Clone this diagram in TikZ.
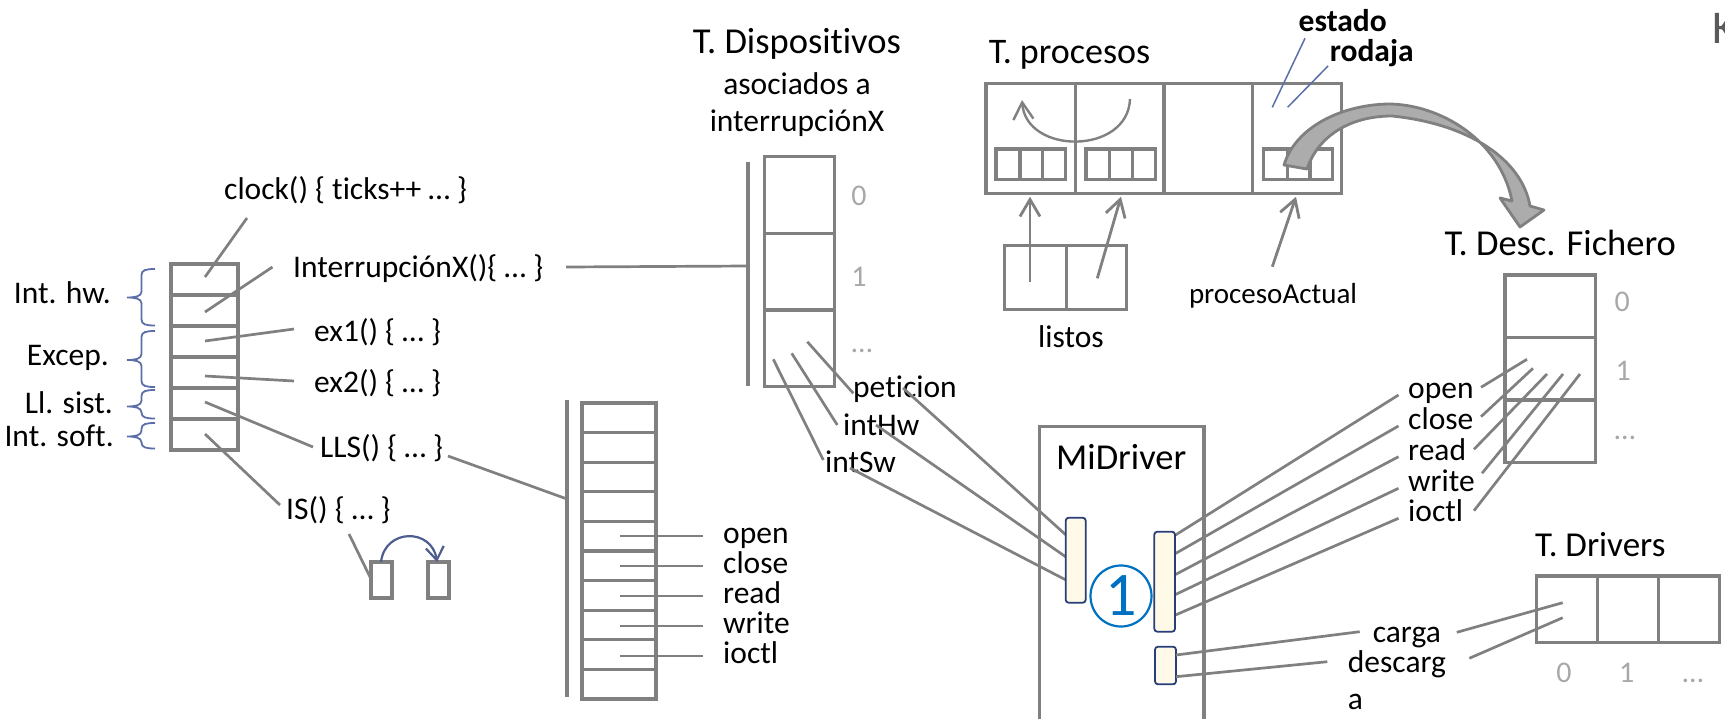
\documentclass[tikz,border=0pt]{standalone}
\usepackage{fontspec}
\setmainfont{Carlito}[Ligatures={NoCommon}]
\usetikzlibrary{arrows.meta}
\definecolor{linegray}{RGB}{128,128,128}
\definecolor{idxgray}{RGB}{168,168,168}
\definecolor{bracecol}{RGB}{92,110,168}
\definecolor{barfill}{RGB}{255,249,232}
\definecolor{barline}{RGB}{40,62,120}
\definecolor{circblue}{RGB}{0,112,192}
\definecolor{arrowfill}{RGB}{172,172,172}
\definecolor{kgray}{RGB}{90,90,90}
% curly brace opening to the right: top, tip, bottom
\newcommand\sidebrace[3]{%
  \draw[brc] (155,#1) .. controls (146,#1) and (141.5,#1+1) .. (141.5,#1+6)
    -- (141.5,#2-6) .. controls (141.5,#2-1) and (135,#2) .. (127,#2)
    .. controls (135,#2) and (141.5,#2+1) .. (141.5,#2+6)
    -- (141.5,#3-6) .. controls (141.5,#3-1) and (146,#3) .. (155,#3);}
\begin{document}
\begin{tikzpicture}[x=1pt,y=-1pt,
  cell/.style={draw=linegray,line width=3.2pt},
  wire/.style={draw=linegray,line width=2.7pt},
  lbl/.style={inner sep=0pt,font=\fontsize{31.5}{37}\selectfont},
  ttl/.style={inner sep=0pt,font=\fontsize{36.5}{44}\selectfont},
  idx/.style={inner sep=0pt,text=idxgray,font=\fontsize{30}{36}\selectfont},
  ptr/.style={draw=linegray,line width=2.8pt,-{Straight Barb[length=17pt,width=20pt]}},
  brc/.style={draw=bracecol,line width=1.8pt},
  hint/.style={draw=bracecol,line width=1.5pt},
  drvbar/.style={draw=barline,fill=barfill,line width=1.8pt,rounded corners=3pt},
]
\useasboundingbox (0,0) rectangle (1725,718);
\clip (0,0) rectangle (1725,718);

% ---------- interrupt vector table ----------
\draw[cell] (171,264) rectangle (238,450);
\foreach \y in {295,326,357,388,419} \draw[cell] (171,\y) -- (238,\y);
\coordinate (v1) at (205,277);
\coordinate (v2) at (205,312);
\coordinate (v3) at (205,341);
\coordinate (v4) at (205,376);
\coordinate (v5) at (205,402);
\coordinate (v6) at (205,434);

\sidebrace{269}{297.5}{325.5}
\sidebrace{331}{360}{387}
\sidebrace{390}{406.5}{418.5}
\sidebrace{423}{436.5}{448.5}
\node[lbl,anchor=base east] (inthw) at (111,303) {Int. hw.};
\node[lbl,anchor=base east] (excep) at (109,365) {Excep.};
\node[lbl,anchor=base east] (llsist) at (113,413) {Ll. sist.};
\node[lbl,anchor=base east] (intsoft) at (114,446) {Int. soft.};

\node[lbl,anchor=base west] (clk) at (224,199) {clock() \{ ticks++ … \}};
\node[lbl,anchor=base west] (intx) at (293,277) {InterrupciónX()\{ … \}};
\node[lbl,anchor=base west] (ex1) at (314,341) {ex1() \{ … \}};
\node[lbl,anchor=base west] (ex2) at (314,392) {ex2() \{ … \}};
\node[lbl,anchor=base west] (lls) at (320,457) {LLS() \{ … \}};
\node[lbl,anchor=base west] (isr) at (286,519) {IS() \{ … \}};

\coordinate (clkA) at (247,218);
\coordinate (intxA) at (272.5,267);
\coordinate (ex1A) at (294,329);
\coordinate (ex2A) at (294,381);
\coordinate (llsA) at (313,447);
\coordinate (isA) at (280,505);
\draw[wire] (clkA) -- (v1);
\draw[wire] (intxA) -- (v2);
\draw[wire] (ex1A) -- (v3);
\draw[wire] (ex2A) -- (v4);
\draw[wire] (llsA) -- (v5);
\draw[wire] (isA) -- (v6);

% two small buffers and the jump between them
\draw[cell] (371,562) rectangle (392,598);
\draw[cell] (428,562) rectangle (449,598);
\coordinate (bufA) at (371,579);
\coordinate (bufAtop) at (381,562);
\coordinate (bufBtop) at (437,562);
\coordinate (isB) at (349,534);
\draw[wire] (isB) -- (bufA);
\draw[draw=bracecol!85!black,line width=2.2pt,-{Straight Barb[length=13pt,width=18pt]}]
  (bufAtop) .. controls (385,528) and (432,528) .. (bufBtop);

% ---------- system call table ----------
\coordinate (scTop) at (567,400);
\coordinate (scBot) at (567,697);
\draw[cell] (scTop) -- (scBot);
\draw[cell] (582,403) rectangle (656,699);
\foreach \y in {432.6,462.2,491.8,521.4,551,580.6,610.2,639.8,669.4} \draw[cell] (582,\y) -- (656,\y);
\coordinate (llsB) at (448,456);
\coordinate (scIn) at (567,499);
\draw[wire] (llsB) -- (scIn);
\foreach \t/\y in {open/536,close/566,read/596,write/626,ioctl/656}{
  \coordinate (sc\t) at (620,\y);
  \coordinate (sc\t L) at (703,\y);
  \node[lbl,anchor=base west] (scl\t) at (723,\y+7.5) {\t};
  \draw[wire] (sc\t) -- (sc\t L);
}

% ---------- device table of interrupt X ----------
\node[ttl,anchor=base] (tdisp) at (797,53.3) {T. Dispositivos};
\node[lbl,anchor=base,font=\fontsize{31.5}{38}\selectfont] (tdisp2) at (797,94) {asociados a};
\node[lbl,anchor=base,font=\fontsize{31.5}{38}\selectfont] (tdisp3) at (797,131.7) {interrupciónX};
\coordinate (dvTop) at (748,162);
\coordinate (dvBot) at (748,386);
\draw[cell] (dvTop) -- (dvBot);
\draw[cell] (764.3,156.7) rectangle (834.3,386.7);
\draw[cell] (764.3,233.3) -- (834.3,233.3);
\draw[cell] (764.3,310) -- (834.3,310);
\node[idx,anchor=base] (dv0) at (859,205) {0};
\node[idx,anchor=base] (dv1) at (859,286.7) {1};
\node[idx,anchor=base] (dvn) at (862,352) {…};
\coordinate (intxB) at (566,267);
\coordinate (dvIn) at (748,266);
\draw[wire] (intxB) -- (dvIn);

\node[lbl,anchor=base west] (pet) at (853,397) {peticion};
\node[lbl,anchor=base west] (ihw) at (843,435) {intHw};
\node[lbl,anchor=base west] (isw) at (825,472) {intSw};
\coordinate (dvP) at (807.3,341.7);
\coordinate (dvH) at (791.7,353.3);
\coordinate (dvS) at (773.3,359.3);
\coordinate (petA) at (853.3,393.3);
\coordinate (ihwA) at (837.3,425);
\coordinate (iswA) at (823.3,460);
\draw[wire] (dvP) -- (petA);
\draw[wire] (dvH) -- (ihwA);
\draw[wire] (dvS) -- (iswA);

% ---------- driver ----------
\draw[cell] (1039.3,730) -- (1039.3,426.7) -- (1204,426.7) -- (1204,730);
\node[ttl,anchor=base west] (mid) at (1056,469.3) {MiDriver};
\coordinate (petB) at (903,388);
\coordinate (ihwB) at (876,425);
\coordinate (iswB) at (850,468);
\coordinate (lbP) at (1066,535);
\coordinate (lbH) at (1066,557);
\coordinate (lbS) at (1066,580);
\draw[wire] (petB) -- (lbP);
\draw[wire] (ihwB) -- (lbH);
\draw[wire] (iswB) -- (lbS);

\foreach \t/\y/\ly/\sx/\sy/\ex/\ey in
  {open/535/395/1481/387.3/1527/359.3,
   close/553.5/426/1481/416.7/1533/368.3,
   read/574.5/456.7/1474/449.3/1547/374,
   write/594.5/488.3/1482/473.3/1563/374,
   ioctl/615/518.3/1474/510.7/1580/374}{
  \coordinate (rb\t) at (1175.5,\y);
  \coordinate (fl\t) at (1398.5,\ly);
  \coordinate (fr\t) at (\sx,\sy);
  \coordinate (fd\t) at (\ex,\ey);
  \node[lbl,anchor=base west] (fn\t) at (1408,\ly+3.3) {\t};
  \draw[wire] (rb\t) -- (fl\t);
  \draw[wire] (fr\t) -- (fd\t);
}

\draw[drvbar] (1065.7,517.7) rectangle (1085.7,602.7);
\draw[drvbar] (1154.3,531.7) rectangle (1175,631.7);
\draw[drvbar] (1155,646.7) rectangle (1176,684.3);
\node[circle,draw=circblue,line width=2.2pt,minimum size=61pt,inner sep=0pt,
      text=circblue,font=\fontsize{62}{70}\selectfont] (one) at (1121,596) {1};

% ---------- file descriptor table ----------
\node[ttl,anchor=base west] (tdf) at (1444.3,255) {T. Desc. Fichero};
\draw[cell] (1505,275) rectangle (1595.5,462.7);
\draw[cell] (1505,337.3) -- (1595.5,337.3);
\draw[cell] (1505,400) -- (1595.5,400);
\node[idx,anchor=base] (fd0) at (1622.3,311.5) {0};
\node[idx,anchor=base] (fd1) at (1623.2,380.5) {1};
\node[idx,anchor=base] (fdn) at (1625,439) {…};

% ---------- driver table ----------
\node[ttl,anchor=base west,font=\fontsize{35}{42}\selectfont] (tdrv) at (1535,556) {T. Drivers};
\draw[cell] (1536.7,576) rectangle (1719.3,642.7);
\draw[cell] (1597.3,576) -- (1597.3,642.7);
\draw[cell] (1658.3,576) -- (1658.3,642.7);
\node[idx,anchor=base] (dr0) at (1564,682) {0};
\node[idx,anchor=base] (dr1) at (1626.7,682) {1};
\node[idx,anchor=base] (drn) at (1693,682) {…};

\node[lbl,anchor=base west] (carga) at (1372.6,642.7) {carga};
\node[lbl,anchor=base west,font=\fontsize{31.5}{36.6}\selectfont] (dsc) at (1347.7,672.7) {\begin{tabular}[t]{@{}l@{}}descarg\\a\end{tabular}};
\coordinate (sbC) at (1176,655);
\coordinate (sbD) at (1176,676.7);
\coordinate (cargaL) at (1359.7,631.7);
\coordinate (dscL) at (1327.3,661.7);
\coordinate (cargaR) at (1456.8,632.3);
\coordinate (dscR) at (1469.3,658.3);
\coordinate (dr0a) at (1562.7,602.7);
\coordinate (dr0b) at (1562.7,617.7);
\draw[wire] (sbC) -- (cargaL);
\draw[wire] (sbD) -- (dscL);
\draw[wire] (cargaR) -- (dr0a);
\draw[wire] (dscR) -- (dr0b);

% ---------- process table ----------
\node[ttl,anchor=base west,font=\fontsize{36}{43}\selectfont] (tproc) at (988.6,63.3) {T. procesos};
\draw[cell] (986,83.3) rectangle (1341.7,193.3);
\foreach \x in {1075.5,1164,1252.5} \draw[cell] (\x,83.3) -- (\x,193.3);
\foreach \a/\b/\c/\d in {996/1020/1042.5/1065.7, 1086/1109.3/1132.7/1155.7, 1263.3/1287.3/1310/1332.7}{
  \draw[cell] (\a,149) rectangle (\d,179.5);
  \draw[cell] (\b,149) -- (\b,179.5);
  \draw[cell] (\c,149) -- (\c,179.5);
}
\coordinate (rrB) at (1130,99);
\coordinate (rrA) at (1022,100);
\draw[linegray,line width=2.4pt,-{Straight Barb[length=17pt,width=20pt]}]
  (rrB) .. controls (1128,155) and (1026,155) .. (rrA);

\draw[cell] (1004.4,245.7) rectangle (1126.5,309.3);
\draw[cell] (1066.2,245.7) -- (1066.2,309.3);
\node[lbl,anchor=base west] (listos) at (1038,347.7) {listos};
\coordinate (ls1) at (1030,281.7);
\coordinate (ls2) at (1097.3,278.3);
\coordinate (p1) at (1030,196.7);
\coordinate (p2) at (1121,196.7);
\draw[ptr] (ls1) -- (p1);
\draw[ptr] (ls2) -- (p2);

\node[lbl,anchor=base west,font=\fontsize{29}{35}\selectfont] (pact) at (1188.8,303.3) {procesoActual};
\coordinate (pactA) at (1272.3,266.7);
\coordinate (p4) at (1296,196.7);
\draw[ptr] (pactA) -- (p4);

\node[lbl,anchor=base west,font=\fontsize{31.5}{38}\bfseries] (est) at (1298.5,31.7) {estado};
\node[lbl,anchor=base west,font=\fontsize{31.5}{38}\bfseries] (rod) at (1329.6,61.7) {rodaja};
\coordinate (estA) at (1305,38.3);
\coordinate (estB) at (1272.3,107.3);
\coordinate (rodA) at (1328,66);
\coordinate (rodB) at (1287.6,107.3);
\draw[hint] (estA) -- (estB);
\draw[hint] (rodA) -- (rodB);

% curved block arrow from the process entry to the descriptor table
\filldraw[draw=linegray,fill=arrowfill,line width=2.8pt,line join=round]
  (1284,165) .. controls (1295,128) and (1340,105) .. (1388,104)
  .. controls (1440,104) and (1500,140) .. (1512,201)
  -- (1500,198) -- (1520,227) -- (1544,210) -- (1530,206)
  .. controls (1522,160) and (1470,124) .. (1392,116)
  .. controls (1350,116) and (1318,136) .. (1307,169) -- cycle;

\node[inner sep=0pt,anchor=base west,text=kgray,font=\fontsize{47}{56}\selectfont] (kk) at (1712,43.3) {K};
\end{tikzpicture}
\end{document}
